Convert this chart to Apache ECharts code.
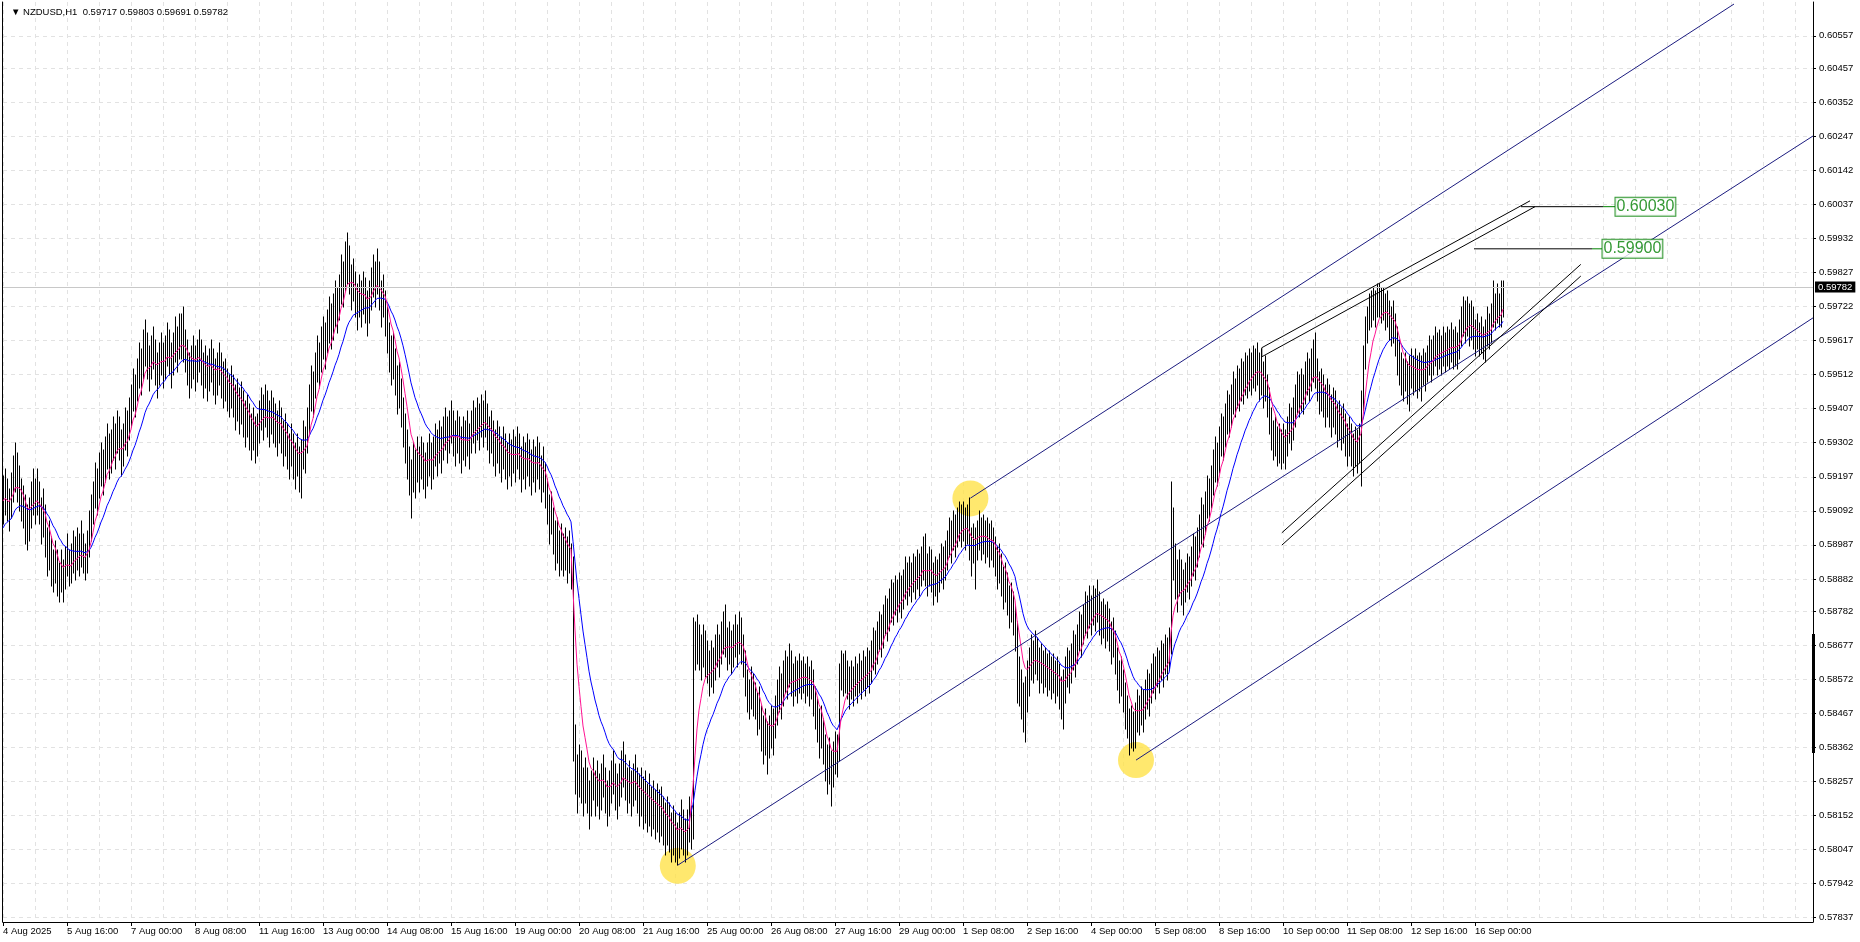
<!DOCTYPE html>
<html>
<head>
<meta charset="utf-8">
<title>NZDUSD,H1</title>
<script src="https://cdn.jsdelivr.net/npm/echarts@6/dist/echarts.min.js"></script>
<style>
html, body { margin: 0; padding: 0; background: #fff; }
#main { width: 1860px; height: 942px; }
</style>
</head>
<body>
<div id="main"></div>
<script>
// H1 bars from 4 Aug 2025 08:00, prices in pips (x 0.0001)
const barHigh = [
  5920,5922,5919,5916,5921,5926,5930,5927,5923,5919,5917,5914,5911,5913,5918,5922,
  5919,5922,5918,5913,5916,5911,5904,5906,5901,5897,5900,5897,5893,5897,5894,5898,5902,5897,5899,5903,5901,5904,5902,5906,
  5902,5899,5903,5909,5914,5918,5924,5922,5927,5930,5928,5932,5936,5933,5934,5938,5936,5940,5938,5934,5936,5941,5940,5944,
  5948,5953,5951,5956,5961,5959,5965,5968,5964,5960,5963,5966,5962,5958,5961,5964,5961,5963,5967,5965,5961,5964,5969,5966,
  5970,5970,5972,5965,5962,5958,5960,5963,5960,5962,5965,5962,5958,5960,5957,5959,5962,5959,5956,5958,5961,5958,5955,5956,
  5953,5951,5954,5951,5948,5950,5947,5949,5946,5943,5945,5942,5939,5941,5938,5939,5943,5947,5945,5948,5946,5943,5946,5944,
  5942,5940,5943,5941,5937,5939,5936,5933,5936,5933,5930,5933,5929,5931,5937,5935,5941,5948,5954,5952,5958,5963,5961,5966,
  5969,5967,5971,5975,5973,5976,5980,5978,5982,5988,5986,5992,5995,5991,5985,5987,5983,5979,5982,5980,5983,5981,5977,5980,
  5984,5988,5986,5990,5986,5980,5982,5977,5972,5967,5963,5964,5959,5954,5955,5950,5944,5939,5934,5929,5925,5930,5928,5932,
  5929,5932,5930,5927,5930,5933,5930,5932,5936,5934,5937,5935,5938,5941,5938,5940,5943,5940,5937,5940,5938,5935,5938,5937,
  5940,5936,5940,5943,5941,5944,5942,5945,5943,5946,5942,5938,5940,5937,5934,5937,5935,5932,5935,5933,5930,5933,5931,5934,
  5932,5935,5933,5929,5932,5930,5933,5931,5928,5931,5929,5932,5930,5926,5929,5924,5919,5914,5915,5910,5906,5907,5903,5905,
  5902,5904,5901,5903,5899,5895,5843,5834,5837,5835,5830,5833,5830,5826,5829,5833,5829,5832,5828,5831,5834,5830,5826,5829,
  5832,5835,5831,5828,5831,5835,5838,5834,5830,5832,5829,5831,5834,5830,5828,5830,5827,5829,5825,5828,5824,5826,5823,5825,
  5823,5824,5821,5819,5821,5819,5816,5818,5816,5813,5816,5820,5817,5814,5817,5821,5818,5876,5875,5877,5874,5871,5874,5872,
  5869,5866,5869,5867,5871,5874,5871,5875,5878,5880,5873,5875,5872,5874,5877,5874,5878,5876,5871,5866,5860,5857,5861,5859,
  5856,5853,5855,5849,5846,5848,5844,5846,5849,5848,5852,5857,5861,5859,5863,5866,5864,5868,5866,5862,5864,5863,5865,5863,
  5864,5862,5864,5861,5863,5860,5855,5851,5848,5849,5845,5840,5837,5839,5835,5838,5841,5840,5862,5866,5865,5866,5863,5861,
  5863,5861,5864,5862,5865,5863,5866,5864,5867,5866,5869,5873,5872,5875,5878,5877,5880,5883,5882,5885,5888,5887,5889,5888,
  5890,5889,5891,5895,5893,5895,5893,5896,5895,5897,5896,5898,5901,5902,5896,5898,5897,5893,5895,5894,5896,5899,5898,5900,
  5903,5907,5906,5909,5908,5910,5912,5911,5912,5910,5911,5913,5904,5905,5904,5906,5909,5907,5908,5906,5907,5905,5906,5904,
  5901,5898,5899,5896,5892,5893,5890,5886,5887,5884,5880,5875,5864,5860,5856,5858,5863,5867,5871,5869,5872,5870,5867,5868,
  5866,5867,5865,5866,5864,5865,5863,5864,5862,5858,5860,5864,5867,5866,5868,5872,5871,5874,5878,5877,5880,5884,5883,5886,
  5883,5886,5885,5888,5884,5881,5882,5880,5881,5879,5875,5876,5872,5867,5863,5864,5860,5856,5852,5848,5849,5847,5850,5854,
  5852,5855,5854,5857,5860,5859,5862,5865,5864,5867,5866,5869,5868,5871,5870,5873,5918,5910,5899,5894,5897,5894,5891,5893,
  5896,5895,5898,5902,5901,5904,5908,5913,5911,5915,5920,5919,5923,5928,5932,5930,5935,5939,5938,5942,5946,5945,5948,5952,
  5950,5954,5953,5956,5955,5958,5957,5959,5958,5960,5959,5961,5958,5959,5955,5957,5951,5947,5941,5937,5938,5935,5936,5934,
  5936,5934,5938,5942,5941,5944,5948,5952,5951,5953,5951,5955,5958,5956,5959,5962,5964,5956,5952,5953,5951,5948,5950,5948,
  5945,5947,5946,5942,5943,5941,5942,5939,5936,5938,5936,5933,5935,5934,5936,5946,5960,5969,5972,5976,5977,5978,5977,5979,
  5979,5978,5978,5976,5977,5974,5972,5974,5970,5966,5962,5958,5956,5958,5955,5957,5959,5957,5959,5957,5958,5957,5959,5958,
  5960,5963,5962,5963,5966,5964,5965,5963,5966,5964,5966,5965,5967,5965,5966,5964,5968,5972,5975,5974,5975,5973,5974,5972,
  5968,5970,5967,5969,5966,5968,5972,5970,5973,5980,5976,5979,5976,5980,5980
];
const barLow = [
  5905,5908,5906,5903,5907,5912,5915,5912,5909,5906,5904,5899,5897,5900,5904,5908,
  5905,5908,5905,5899,5901,5895,5889,5891,5886,5884,5887,5883,5881,5884,5881,5885,5889,5886,5887,5890,5888,5891,5889,5892,
  5890,5888,5890,5895,5900,5905,5910,5908,5913,5917,5914,5918,5922,5919,5921,5925,5922,5927,5925,5920,5923,5928,5926,5931,
  5935,5940,5938,5943,5947,5945,5950,5954,5950,5946,5950,5953,5948,5944,5948,5951,5947,5950,5954,5951,5947,5951,5955,5952,
  5956,5956,5955,5952,5948,5944,5947,5950,5946,5949,5952,5948,5944,5947,5943,5946,5949,5945,5942,5945,5948,5944,5941,5943,
  5940,5938,5941,5938,5934,5937,5933,5936,5932,5929,5932,5928,5925,5928,5924,5926,5930,5934,5931,5935,5932,5929,5933,5930,
  5929,5926,5930,5927,5923,5926,5922,5919,5923,5919,5916,5920,5915,5913,5922,5921,5927,5933,5940,5938,5944,5949,5947,5952,
  5956,5953,5958,5961,5959,5962,5966,5964,5968,5973,5972,5977,5979,5976,5971,5974,5969,5965,5969,5966,5970,5967,5963,5967,
  5971,5975,5972,5976,5971,5966,5969,5963,5958,5952,5948,5950,5945,5939,5941,5935,5929,5924,5919,5914,5907,5915,5913,5918,
  5915,5919,5916,5913,5917,5920,5916,5919,5923,5920,5924,5921,5925,5928,5924,5927,5930,5926,5923,5927,5924,5921,5925,5923,
  5926,5922,5927,5930,5927,5931,5928,5932,5929,5932,5928,5924,5927,5923,5920,5924,5921,5918,5922,5919,5916,5920,5917,5921,
  5918,5922,5919,5915,5919,5916,5920,5917,5914,5918,5915,5919,5916,5912,5915,5910,5905,5899,5902,5896,5891,5893,5889,5891,
  5889,5891,5887,5890,5885,5832,5822,5816,5821,5819,5815,5819,5816,5811,5815,5820,5815,5818,5814,5817,5821,5816,5812,5815,
  5819,5822,5817,5814,5818,5821,5824,5820,5816,5819,5815,5818,5820,5816,5812,5815,5811,5813,5810,5812,5809,5811,5808,5810,
  5807,5809,5806,5803,5806,5804,5801,5803,5801,5800,5802,5805,5803,5801,5803,5807,5805,5808,5860,5862,5860,5857,5861,5858,
  5856,5852,5855,5853,5857,5861,5858,5862,5865,5864,5860,5862,5859,5861,5864,5861,5865,5862,5858,5852,5847,5845,5848,5846,
  5845,5840,5842,5835,5831,5834,5828,5833,5836,5834,5839,5843,5847,5845,5849,5853,5851,5855,5852,5849,5852,5850,5853,5851,
  5853,5850,5852,5849,5851,5846,5842,5838,5833,5836,5831,5826,5822,5825,5818,5824,5828,5827,5832,5854,5852,5853,5851,5848,
  5851,5849,5852,5850,5853,5851,5854,5852,5855,5853,5856,5860,5859,5862,5866,5864,5867,5871,5869,5872,5875,5874,5877,5875,
  5878,5876,5879,5882,5880,5883,5881,5884,5882,5885,5883,5886,5888,5886,5883,5886,5884,5880,5883,5881,5884,5887,5885,5888,
  5891,5895,5893,5897,5895,5898,5900,5898,5900,5897,5899,5894,5889,5893,5885,5894,5897,5894,5896,5893,5895,5892,5894,5892,
  5889,5885,5887,5883,5879,5881,5877,5873,5875,5871,5866,5850,5849,5845,5841,5838,5847,5852,5857,5856,5859,5857,5853,5856,
  5853,5855,5852,5854,5851,5853,5850,5852,5848,5845,5842,5850,5855,5853,5856,5860,5858,5862,5866,5864,5868,5871,5870,5873,
  5871,5874,5872,5875,5871,5868,5870,5867,5869,5866,5862,5864,5859,5854,5850,5852,5847,5842,5839,5834,5836,5835,5836,5841,
  5840,5843,5841,5845,5848,5846,5850,5853,5851,5855,5853,5857,5855,5859,5857,5860,5865,5888,5882,5878,5883,5880,5877,5881,
  5884,5882,5886,5889,5888,5892,5895,5899,5898,5902,5907,5906,5910,5914,5918,5917,5921,5926,5925,5929,5933,5932,5935,5939,
  5938,5941,5940,5943,5942,5945,5944,5946,5945,5947,5946,5948,5943,5945,5941,5943,5938,5933,5928,5925,5926,5923,5924,5922,
  5924,5922,5926,5930,5928,5931,5935,5939,5938,5940,5939,5942,5945,5943,5946,5949,5947,5943,5939,5940,5938,5935,5938,5935,
  5932,5935,5933,5929,5931,5928,5930,5926,5923,5926,5923,5920,5923,5921,5924,5917,5940,5953,5961,5965,5966,5968,5966,5969,
  5969,5967,5968,5965,5966,5962,5960,5961,5957,5951,5948,5945,5943,5946,5942,5940,5947,5945,5946,5944,5946,5943,5948,5946,
  5949,5951,5949,5951,5954,5951,5953,5951,5954,5952,5954,5953,5955,5953,5954,5953,5956,5960,5963,5961,5963,5960,5962,5959,
  5957,5959,5957,5958,5956,5955,5960,5959,5961,5966,5965,5967,5966,5966,5969
];
const barClose = [
  5913,5916,5912,5909,5914,5920,5924,5918,5915,5913,5910,5906,5903,5907,5911,5915,
  5912,5916,5911,5906,5909,5902,5896,5899,5893,5890,5894,5889,5886,5891,5887,5892,5895,5890,5893,5897,5894,5898,5895,5899,
  5896,5892,5897,5903,5908,5913,5918,5915,5920,5924,5921,5926,5930,5925,5928,5932,5929,5934,5931,5926,5930,5935,5933,5938,
  5942,5947,5944,5950,5955,5952,5958,5962,5957,5953,5957,5960,5955,5951,5955,5958,5954,5957,5961,5958,5954,5958,5962,5959,
  5963,5964,5960,5959,5955,5951,5954,5957,5953,5956,5959,5955,5951,5954,5950,5953,5956,5952,5949,5952,5955,5951,5948,5950,
  5947,5944,5948,5945,5941,5944,5940,5943,5939,5936,5939,5935,5932,5935,5931,5933,5937,5941,5938,5942,5939,5936,5940,5937,
  5936,5933,5937,5934,5930,5933,5929,5926,5930,5926,5923,5927,5922,5925,5931,5928,5935,5942,5948,5945,5952,5957,5954,5960,
  5963,5960,5965,5969,5966,5970,5974,5971,5976,5982,5979,5986,5988,5982,5978,5981,5976,5972,5976,5973,5977,5974,5970,5974,
  5978,5982,5979,5984,5978,5973,5976,5970,5965,5960,5955,5958,5952,5946,5949,5942,5937,5931,5927,5922,5918,5924,5921,5926,
  5922,5926,5923,5920,5924,5927,5923,5926,5930,5927,5931,5928,5932,5935,5931,5934,5937,5933,5930,5934,5931,5928,5932,5930,
  5933,5929,5934,5937,5934,5938,5935,5939,5936,5940,5935,5931,5934,5930,5927,5931,5928,5925,5929,5926,5923,5927,5924,5928,
  5925,5929,5926,5922,5926,5923,5927,5924,5921,5925,5922,5926,5923,5919,5922,5917,5912,5906,5909,5903,5898,5901,5896,5899,
  5895,5898,5894,5897,5892,5840,5830,5825,5831,5827,5822,5827,5823,5818,5823,5827,5822,5826,5821,5825,5828,5823,5819,5823,
  5826,5829,5824,5821,5825,5829,5832,5827,5823,5826,5822,5825,5828,5823,5820,5824,5819,5822,5818,5821,5817,5820,5816,5819,
  5815,5818,5814,5811,5815,5812,5808,5812,5809,5806,5810,5814,5810,5807,5811,5815,5811,5870,5866,5871,5868,5864,5868,5865,
  5862,5858,5863,5860,5865,5868,5864,5869,5873,5870,5866,5869,5865,5868,5871,5867,5872,5869,5864,5858,5853,5850,5855,5852,
  5850,5846,5849,5842,5838,5842,5836,5840,5844,5841,5846,5851,5855,5852,5857,5861,5857,5862,5859,5855,5859,5856,5860,5857,
  5860,5856,5859,5855,5858,5853,5848,5844,5840,5843,5837,5833,5829,5833,5828,5832,5836,5834,5858,5862,5858,5861,5857,5854,
  5858,5855,5859,5856,5860,5857,5861,5858,5862,5859,5864,5868,5865,5869,5873,5870,5875,5878,5875,5879,5883,5880,5884,5881,
  5885,5882,5886,5889,5886,5890,5887,5891,5888,5892,5889,5893,5896,5892,5889,5893,5890,5886,5890,5887,5891,5894,5891,5895,
  5898,5902,5899,5904,5901,5905,5908,5904,5907,5903,5906,5900,5896,5900,5897,5901,5904,5900,5903,5899,5902,5898,5901,5898,
  5895,5891,5894,5889,5885,5888,5883,5879,5882,5877,5873,5855,5858,5852,5848,5853,5858,5862,5866,5863,5867,5864,5860,5863,
  5859,5862,5858,5861,5857,5860,5856,5859,5855,5851,5855,5859,5862,5859,5863,5867,5864,5869,5873,5870,5875,5879,5876,5880,
  5877,5881,5878,5882,5878,5874,5877,5873,5876,5872,5868,5871,5865,5860,5856,5859,5853,5849,5845,5840,5844,5841,5845,5849,
  5846,5850,5847,5852,5855,5852,5857,5860,5857,5862,5859,5864,5861,5866,5863,5868,5903,5895,5890,5886,5891,5887,5884,5888,
  5891,5888,5893,5897,5894,5899,5903,5907,5904,5910,5915,5912,5918,5922,5926,5923,5929,5934,5931,5937,5941,5938,5943,5947,
  5944,5949,5946,5951,5948,5953,5950,5954,5951,5955,5952,5956,5950,5953,5947,5950,5944,5939,5934,5930,5933,5928,5931,5927,
  5931,5928,5933,5937,5934,5939,5943,5947,5944,5948,5945,5950,5953,5949,5954,5957,5953,5949,5945,5948,5944,5941,5945,5941,
  5938,5942,5939,5935,5938,5934,5937,5932,5929,5933,5929,5926,5930,5927,5931,5942,5956,5965,5969,5972,5970,5974,5971,5975,
  5975,5972,5974,5970,5972,5968,5966,5969,5963,5958,5955,5952,5949,5953,5948,5951,5955,5951,5954,5950,5954,5951,5955,5952,
  5955,5958,5955,5958,5961,5957,5960,5957,5961,5958,5961,5959,5962,5958,5961,5959,5963,5967,5970,5967,5970,5966,5969,5966,
  5962,5965,5961,5964,5960,5963,5967,5964,5968,5973,5969,5973,5970,5972,5978
];

// time axis: one slot per bar, labels every 32 bars
const slotCount = 905;
const labelBars = [0, 32, 64, 96, 128, 160, 192, 224, 256, 288, 320, 352, 384, 416, 448, 480, 512, 544, 576, 608, 640, 672, 704, 736];
const labelText = ['4 Aug 2025', '5 Aug 16:00', '7 Aug 00:00', '8 Aug 08:00', '11 Aug 16:00', '13 Aug 00:00',
  '14 Aug 08:00', '15 Aug 16:00', '19 Aug 00:00', '20 Aug 08:00', '21 Aug 16:00', '25 Aug 00:00',
  '26 Aug 08:00', '27 Aug 16:00', '29 Aug 00:00', '1 Sep 08:00', '2 Sep 16:00', '4 Sep 00:00',
  '5 Sep 08:00', '8 Sep 16:00', '10 Sep 00:00', '11 Sep 08:00', '12 Sep 16:00', '16 Sep 00:00'];

// price scale
const priceMin = 0.578237;
const priceMax = 0.606613;
const priceTicks = [0.57837, 0.57942, 0.58047, 0.58152, 0.58257, 0.58362, 0.58467, 0.58572, 0.58677,
  0.58782, 0.58882, 0.58987, 0.59092, 0.59197, 0.59302, 0.59407, 0.59512, 0.59617, 0.59722,
  0.59827, 0.59932, 0.60037, 0.60142, 0.60247, 0.60352, 0.60457, 0.60557];
const lastPrice = 0.59782;
const axisMark = [0.58712, 0.58345];

// moving averages (EMA) with their starting values
const fastPeriod = 8, fastStart = 0.5912;
const slowPeriod = 21, slowStart = 0.5903;

// drawn objects, [bar, price]
const circlePoints = [[337.4, 0.57997], [483.7, 0.59130], [566.5, 0.58323]];
const channelLines = [
  [[337.4, 0.57999], [905, 0.60248]],
  [[483.7, 0.59131], [865.5, 0.60655]],
  [[566.5, 0.58323], [905, 0.59687]]
];
const wedgeLines = [
  [[763.5, 0.60048], [629.4, 0.59595], [629.4, 0.59567], [766, 0.60030]],
  [[639.4, 0.59024], [788.9, 0.59852]],
  [[639.4, 0.58986], [788.9, 0.59816]]
];
const levelValues = [0.60030, 0.59900];
const levelFrom = [759, 735.5];
const levelTo = [800, 794.5];
const levelBox = [806, 799.5];

const FONT = '"Liberation Sans", Arial, sans-serif';
const PIP = 0.0001;

const bars = barClose.map((c, i) => [i, barLow[i] * PIP, barHigh[i] * PIP, c * PIP]);

function ema(period, start) {
  const k = 2 / (period + 1);
  let prev = start;
  return barClose.map((c, i) => {
    prev = prev + k * (c * PIP - prev);
    return [i, prev];
  });
}

const chart = echarts.init(document.getElementById('main'));

const lineSeries = (data, color, z) => ({
  type: 'line',
  data: data,
  showSymbol: false,
  symbol: 'none',
  silent: true,
  animation: false,
  z: z,
  lineStyle: { color: color, width: 1 }
});

const series = [
  {
    type: 'scatter',
    data: circlePoints,
    symbolSize: 36,
    silent: true,
    z: 1,
    itemStyle: { color: '#ffe24a' }
  },
  {
    type: 'custom',
    data: bars,
    z: 2,
    silent: true,
    encode: { x: 0, y: [1, 2] },
    renderItem: function (params, api) {
      const lo = api.coord([api.value(0), api.value(1)]);
      const hi = api.coord([api.value(0), api.value(2)]);
      const x = Math.round(lo[0]) + 0.5;
      return {
        type: 'line',
        shape: { x1: x, y1: Math.round(lo[1]) + 0.5, x2: x, y2: Math.round(hi[1]) - 0.5 },
        style: { stroke: '#000', lineWidth: 1 }
      };
    }
  },
  Object.assign(lineSeries(ema(slowPeriod, slowStart), '#0000ff', 3), {
    markLine: {
      silent: true,
      symbol: 'none',
      animation: false,
      precision: 5,
      data: [
        {
          yAxis: lastPrice,
          lineStyle: { color: '#c8c8c8', type: 'solid', width: 1 },
          label: {
            show: true, position: 'end', distance: 2, formatter: lastPrice.toFixed(5),
            backgroundColor: '#000', color: '#fff', fontSize: 9.5, fontFamily: FONT,
            padding: [1, 3, 0, 3], lineHeight: 10
          }
        },
        [
          { coord: [slotCount, axisMark[0]], lineStyle: { color: '#000', width: 3, type: 'solid' }, label: { show: false } },
          { coord: [slotCount, axisMark[1]] }
        ]
      ]
    }
  }),
  lineSeries(ema(fastPeriod, fastStart), '#ff1493', 4)
];

channelLines.forEach(pts => series.push(lineSeries(pts, '#1c1c80', 5)));
wedgeLines.forEach(pts => series.push(lineSeries(pts, '#000', 5)));
levelValues.forEach((v, i) => {
  series.push(lineSeries([[levelFrom[i], v], [levelTo[i], v]], '#000', 5));
  series.push(lineSeries([[levelTo[i], v], [levelBox[i], v]], '#008000', 5));
});
series.push({
  type: 'scatter',
  data: levelValues.map((v, i) => [levelBox[i], v]),
  symbol: 'rect',
  symbolSize: 1,
  silent: true,
  z: 6,
  itemStyle: { color: 'rgba(0,0,0,0)' },
  label: {
    show: true,
    position: 'right',
    distance: 0,
    formatter: p => p.value[1].toFixed(5),
    color: '#008000',
    fontSize: 16,
    fontFamily: FONT,
    borderColor: '#008000',
    borderWidth: 1,
    backgroundColor: '#fff',
    padding: [2, 1, 0, 1]
  }
});

const gridLine = { show: true, lineStyle: { color: '#e2e2e2', type: [4, 4], width: 1 } };

const option = {
  animation: false,
  backgroundColor: '#fff',
  title: {
    text: '\u25BC NZDUSD,H1  0.59717 0.59803 0.59691 0.59782',
    left: 6,
    top: 2,
    textStyle: { fontSize: 9.5, fontWeight: 'normal', color: '#000', fontFamily: FONT }
  },
  grid: { left: 3, right: 47, top: 2, bottom: 20 },
  xAxis: [
    {
      type: 'value', min: 0, max: slotCount, position: 'bottom',
      axisLine: { show: true, onZero: false, lineStyle: { color: '#000', width: 1 } },
      axisTick: { show: true, length: 4, customValues: labelBars, lineStyle: { color: '#000' } },
      axisLabel: {
        customValues: labelBars,
        formatter: v => labelText[labelBars.indexOf(v)] || '',
        align: 'left', margin: 4, fontSize: 9.5, color: '#000', fontFamily: FONT,
        showMinLabel: true, showMaxLabel: true
      },
      splitLine: { show: false }
    },
    {
      type: 'value', min: 0, max: slotCount, interval: 16, position: 'bottom',
      axisLine: { show: false }, axisTick: { show: false }, axisLabel: { show: false },
      splitLine: gridLine
    }
  ],
  yAxis: [
    {
      type: 'value', position: 'right', min: priceMin, max: priceMax,
      axisLine: { show: true, onZero: false, lineStyle: { color: '#000', width: 1 } },
      axisTick: { show: true, length: 3, customValues: priceTicks, lineStyle: { color: '#000' } },
      axisLabel: {
        customValues: priceTicks,
        formatter: v => v.toFixed(5),
        margin: 6, fontSize: 9.5, color: '#000', fontFamily: FONT,
        showMinLabel: true, showMaxLabel: true
      },
      splitLine: gridLine
    },
    {
      type: 'value', position: 'left', min: priceMin, max: priceMax, offset: 1,
      axisLine: { show: true, onZero: false, lineStyle: { color: '#000', width: 1 } },
      axisTick: { show: false }, axisLabel: { show: false }, splitLine: { show: false }
    }
  ],
  series: series
};

chart.setOption(option);
</script>
</body>
</html>
